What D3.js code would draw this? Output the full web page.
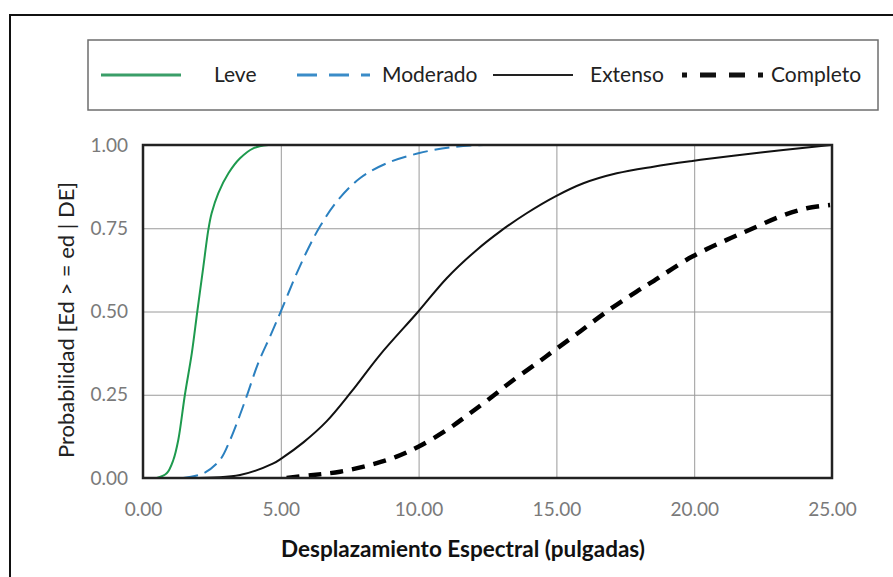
<!DOCTYPE html>
<html>
<head>
<meta charset="utf-8">
<script src="https://cdn.jsdelivr.net/npm/d3@7"></script>
<style>
  body { margin: 0; background: #fff; }
  svg { display: block; }
  text { font-family: Lato, "Open Sans", sans-serif; }
</style>
</head>
<body>
<svg id="chart" width="893" height="577"></svg>
<script>
// values
var xTicks = [0, 5, 10, 15, 20, 25];
var yTicks = [0, 0.25, 0.5, 0.75, 1];

var leveX = [0, 0.5, 0.86, 1.10, 1.28, 1.52, 1.77, 1.97, 2.19, 2.37, 2.49, 2.73, 3.10, 3.52, 4.0, 4.55];
var leveY = [0, 0, 0.014, 0.054, 0.114, 0.25, 0.374, 0.5, 0.635, 0.745, 0.795, 0.855, 0.915, 0.96, 0.99, 1.0];

var moderadoX = [1.46, 2.19, 2.79, 3.16, 3.52, 3.76, 4.18, 4.61, 5.0, 5.58, 6.0, 6.42, 7.03, 7.87, 8.84, 9.99, 11.14, 12.35];
var moderadoY = [0, 0.014, 0.054, 0.114, 0.19, 0.245, 0.345, 0.425, 0.5, 0.615, 0.69, 0.755, 0.83, 0.9, 0.945, 0.975, 0.993, 1.0];

var extensoX = [1.7, 3.52, 4.73, 5.03, 5.82, 6.66, 7.57, 8.60, 9.99, 11.02, 12.11, 12.95, 13.92, 14.95, 15.98, 17.19, 18.52, 19.93, 21.42, 23.23, 24.95];
var extensoY = [0, 0.009, 0.044, 0.059, 0.107, 0.17, 0.26, 0.37, 0.5, 0.6, 0.685, 0.74, 0.795, 0.845, 0.885, 0.915, 0.935, 0.952, 0.968, 0.985, 1.0];

var completoX = [5.21, 6.18, 7.15, 8.24, 9.2, 9.99, 11.02, 11.86, 12.71, 13.32, 14.28, 14.95, 15.86, 16.83, 17.91, 18.4, 19.93, 21.18, 22.14, 23.11, 24.08, 24.93];
var completoY = [0, 0.009, 0.019, 0.039, 0.064, 0.094, 0.144, 0.194, 0.247, 0.287, 0.344, 0.385, 0.44, 0.5, 0.56, 0.585, 0.665, 0.715, 0.75, 0.785, 0.81, 0.82];

var seriesNames = ["Leve", "Moderado", "Extenso", "Completo"];

var svg = d3.select("#chart");

// outer frame (runs off the right and bottom edges)
svg.append("rect")
    .attr("x", 10).attr("y", 15)
    .attr("width", 900).attr("height", 600)
    .attr("fill", "none")
    .attr("stroke", "#111")
    .attr("stroke-width", 2);

var plotLeft = 143, plotRight = 832, plotTop = 145, plotBottom = 478;
var xScale = d3.scaleLinear().domain([0, 25]).range([plotLeft, plotRight]);
var yScale = d3.scaleLinear().domain([0, 1]).range([plotBottom, plotTop]);

// grid lines
svg.append("g")
    .attr("transform", "translate(0," + plotBottom + ")")
    .call(d3.axisBottom(xScale).tickValues(xTicks).tickSize(-(plotBottom - plotTop)).tickFormat(""))
    .call(function (g) {
        g.select(".domain").remove();
        g.selectAll("line").attr("stroke", "#9a9a9a").attr("stroke-width", 1);
    });
svg.append("g")
    .attr("transform", "translate(" + plotLeft + ",0)")
    .call(d3.axisLeft(yScale).tickValues(yTicks).tickSize(-(plotRight - plotLeft)).tickFormat(""))
    .call(function (g) {
        g.select(".domain").remove();
        g.selectAll("line").attr("stroke", "#9a9a9a").attr("stroke-width", 1);
    });

// tick labels
svg.append("g")
    .attr("transform", "translate(0," + plotBottom + ")")
    .call(d3.axisBottom(xScale).tickValues(xTicks).tickSize(0).tickPadding(25).tickFormat(d3.format(".2f")))
    .call(function (g) {
        g.select(".domain").remove();
        g.selectAll("text").attr("fill", "#7a7a7a").style("font-size", "19px").style("font-family", "Lato, sans-serif");
    });
svg.append("g")
    .attr("transform", "translate(" + plotLeft + ",0)")
    .call(d3.axisLeft(yScale).tickValues(yTicks).tickSize(0).tickPadding(15).tickFormat(d3.format(".2f")))
    .call(function (g) {
        g.select(".domain").remove();
        g.selectAll("text").attr("fill", "#7a7a7a").style("font-size", "19px").style("font-family", "Lato, sans-serif");
    });

// curves
var line = d3.line()
    .x(function (d) { return xScale(d[0]); })
    .y(function (d) { return yScale(d[1]); })
    .curve(d3.curveCatmullRom.alpha(0.5));

function pairs(xs, ys) {
    return xs.map(function (x, i) { return [x, ys[i]]; });
}

svg.append("clipPath").attr("id", "plotClip")
    .append("rect").attr("x", plotLeft).attr("y", plotTop - 3)
    .attr("width", plotRight - plotLeft).attr("height", plotBottom - plotTop + 3);

var plot = svg.append("g").attr("clip-path", "url(#plotClip)");

plot.append("path").datum(pairs(extensoX, extensoY))
    .attr("d", line).attr("fill", "none")
    .attr("stroke", "#111").attr("stroke-width", 2);
plot.append("path").datum(pairs(completoX, completoY))
    .attr("d", line).attr("fill", "none")
    .attr("stroke", "#000").attr("stroke-width", 4.5)
    .attr("stroke-dasharray", "13,9");
plot.append("path").datum(pairs(moderadoX, moderadoY))
    .attr("d", line).attr("fill", "none")
    .attr("stroke", "#2b80c0").attr("stroke-width", 2)
    .attr("stroke-dasharray", "15,7");
plot.append("path").datum(pairs(leveX, leveY))
    .attr("d", line).attr("fill", "none")
    .attr("stroke", "#1e9a4e").attr("stroke-width", 2);

// plot frame
svg.append("rect")
    .attr("x", plotLeft).attr("y", plotTop)
    .attr("width", plotRight - plotLeft).attr("height", plotBottom - plotTop)
    .attr("fill", "none")
    .attr("stroke", "#222")
    .attr("stroke-width", 2.5);

// axis titles
svg.append("text")
    .attr("transform", "translate(74,320) rotate(-90)")
    .attr("text-anchor", "middle")
    .attr("fill", "#222")
    .style("font-size", "22px")
    .text("Probabilidad [Ed > = ed | DE]");

svg.append("text")
    .attr("x", 463).attr("y", 557)
    .attr("text-anchor", "middle")
    .attr("fill", "#111")
    .style("font-size", "22.5px")
    .style("font-weight", "bold")
    .text("Desplazamiento Espectral (pulgadas)");

// legend
svg.append("rect")
    .attr("x", 88).attr("y", 40)
    .attr("width", 790).attr("height", 70)
    .attr("fill", "#fff")
    .attr("stroke", "#6e6e6e")
    .attr("stroke-width", 1.5);

var legendStyles = [
    { x1: 101, x2: 181, tx: 214, color: "#3a9e68", width: 3, dash: null, offset: 0 },
    { x1: 297, x2: 370, tx: 382, color: "#3a8cc8", width: 3, dash: "20,12", offset: 0 },
    { x1: 493, x2: 573, tx: 590, color: "#222", width: 2, dash: null, offset: 0 },
    { x1: 682, x2: 763, tx: 771, color: "#111", width: 5, dash: "16,13", offset: 11 }
];

var legend = svg.append("g").selectAll("g")
    .data(seriesNames)
    .enter()
    .append("g");

legend.append("line")
    .attr("x1", function (d, i) { return legendStyles[i].x1; })
    .attr("x2", function (d, i) { return legendStyles[i].x2; })
    .attr("y1", 75).attr("y2", 75)
    .attr("stroke", function (d, i) { return legendStyles[i].color; })
    .attr("stroke-width", function (d, i) { return legendStyles[i].width; })
    .attr("stroke-dasharray", function (d, i) { return legendStyles[i].dash; })
    .attr("stroke-dashoffset", function (d, i) { return legendStyles[i].offset; });

legend.append("text")
    .attr("x", function (d, i) { return legendStyles[i].tx; })
    .attr("y", 82)
    .attr("fill", "#222")
    .style("font-size", "21px")
    .text(function (d) { return d; });
</script>
</body>
</html>
